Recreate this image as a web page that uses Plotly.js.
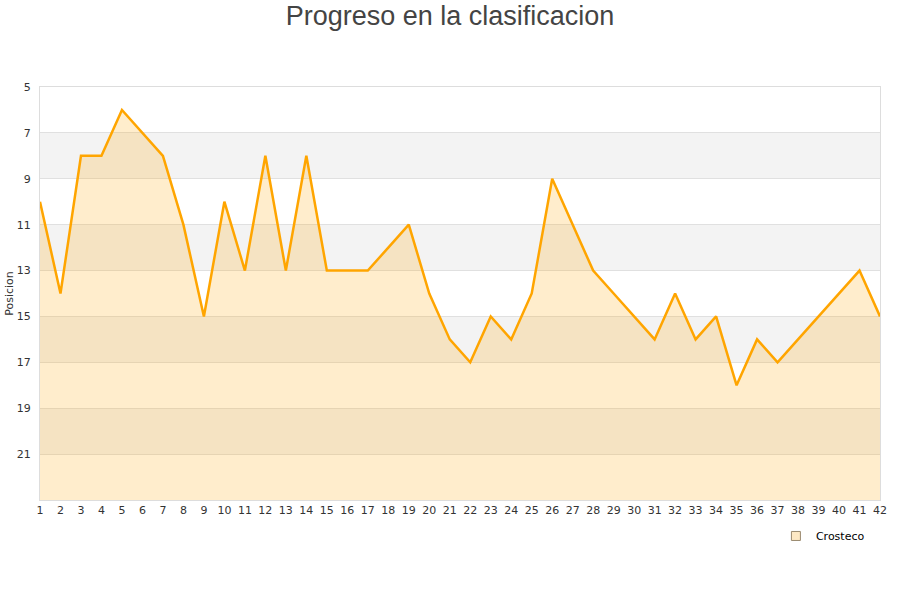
<!DOCTYPE html>
<html>
<head>
<meta charset="utf-8">
<script src="https://cdn.plot.ly/plotly-3.0.1.min.js"></script>
<style>html,body{margin:0;padding:0;background:#fff}#chart{width:900px;height:600px}</style>
</head>
<body>
<div id="chart"></div>
<script>
const jornadas = [1,2,3,4,5,6,7,8,9,10,11,12,13,14,15,16,17,18,19,20,21,22,23,24,25,26,27,28,29,30,31,32,33,34,35,36,37,38,39,40,41,42];
const posicion = [10,14,8,8,6,7,8,11,15,10,13,8,13,8,13,13,13,12,11,14,16,17,15,16,14,9,11,13,14,15,16,14,16,15,18,16,17,16,15,14,13,15];
const yTicks = [5,7,9,11,13,15,17,19,21];
const bandStarts = [7,11,15,19];
const yFloor = 23;
const teamName = 'Crosteco';

const baseline = jornadas.map(() => yFloor);

const traces = [
  {x: jornadas, y: baseline, mode: 'lines', line: {width: 0, color: 'rgba(0,0,0,0)'}, showlegend: false, hoverinfo: 'skip'},
  {x: jornadas, y: posicion, mode: 'lines', fill: 'tonexty', fillcolor: 'rgba(255,165,0,0.2)',
   line: {color: '#ffa500', width: 2.5}, showlegend: false, name: teamName},
  {x: [null], y: [null], mode: 'markers', name: teamName,
   marker: {symbol: 'square', size: 9, color: '#fde8c4', line: {color: '#9a8a70', width: 1}}}
];

const shapes = bandStarts.map(s => ({
  type: 'rect', xref: 'paper', yref: 'y', x0: 0, x1: 1, y0: s, y1: s + 2,
  fillcolor: '#f3f3f3', line: {width: 0}, layer: 'below'
}));

const layout = {
  width: 900, height: 600,
  margin: {l: 40, r: 20, t: 87, b: 100},
  paper_bgcolor: '#fff', plot_bgcolor: '#fff',
  font: {family: 'DejaVu Sans, sans-serif', size: 11, color: '#333'},
  title: {text: 'Progreso en la clasificacion', x: 0.5, xanchor: 'center', y: 0.99, yanchor: 'top',
          font: {family: 'Liberation Sans, Arial, sans-serif', size: 27, color: '#444'}},
  xaxis: {range: [1, 42], tickvals: jornadas, ticktext: jornadas.map(String), showgrid: false,
          zeroline: false, showline: true, linecolor: '#dddddd', mirror: true, ticks: '',
          tickfont: {size: 11, color: '#333'}, fixedrange: true},
  yaxis: {range: [yFloor, 5], tickvals: yTicks, showgrid: true, gridcolor: '#e0e0e0', gridwidth: 1,
          zeroline: false, showline: true, linecolor: '#dddddd', mirror: true, ticks: '',
          tickfont: {size: 11, color: '#333'}, ticklabelstandoff: 6,
          title: {text: 'Posicion', font: {size: 11, color: '#333'}, standoff: 0}},
  shapes: shapes,
  showlegend: true,
  legend: {x: 0.988, xanchor: 'right', y: -0.052, yanchor: 'top', orientation: 'h',
           font: {size: 11, color: '#000'}, bgcolor: 'rgba(0,0,0,0)'}
};

Plotly.newPlot('chart', traces, layout, {displayModeBar: false, staticPlot: true});
</script>
</body>
</html>
